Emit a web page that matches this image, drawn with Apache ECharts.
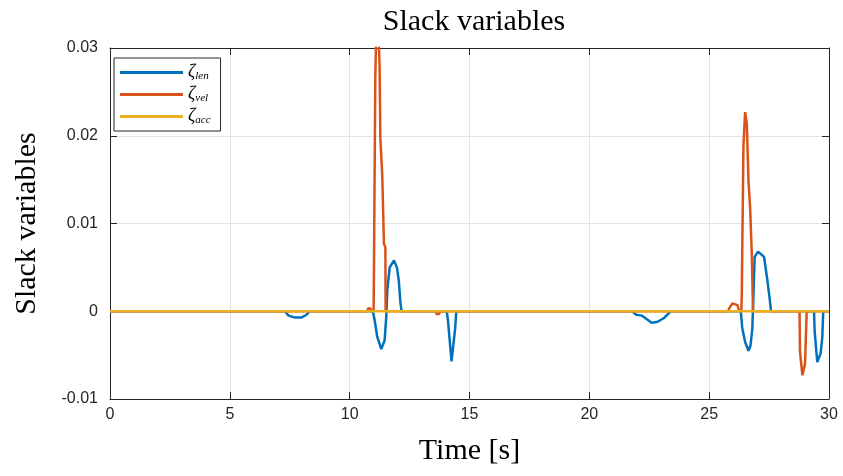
<!DOCTYPE html>
<html><head><meta charset="utf-8">
<script src="https://cdn.jsdelivr.net/npm/echarts@6/dist/echarts.min.js"></script>
<style>html,body{margin:0;padding:0;background:#fff}#c{width:843px;height:476px}</style>
</head><body><div id="c"></div>
<script>
// Data
const seriesNames = ['ζlen', 'ζvel', 'ζacc'];
const legendSub = {'ζlen': 'len', 'ζvel': 'vel', 'ζacc': 'acc'};
const xTicks = [0, 5, 10, 15, 20, 25, 30];
const yTicks = [-0.01, 0, 0.01, 0.02, 0.03];

const lenT = [0, 7.3, 7.45, 7.7, 8.0, 8.2, 8.33, 10.97, 11.04, 11.15, 11.32, 11.46, 11.53, 11.57, 11.67, 11.85, 11.97, 12.05, 12.12, 12.17,
  14.05, 14.1, 14.25, 14.32, 14.4, 14.45, 21.8, 21.95, 22.2, 22.4, 22.6, 22.85, 23.1, 23.4,
  26.32, 26.38, 26.5, 26.64, 26.72, 26.8, 26.85, 26.9, 27.04, 27.29, 27.43, 27.53, 27.58,
  29.375, 29.4, 29.51, 29.65, 29.72, 29.76, 30];
const lenV = [0, 0, -0.0005, -0.0007, -0.0007, -0.0004, 0, 0, -0.001, -0.0029, -0.0043, -0.0033, -0.0005, 0.0024, 0.005, 0.0058, 0.005, 0.0035, 0.0009, 0,
  0, -0.001, -0.0057, -0.0055, -0.002, 0, 0, -0.0004, -0.0005, -0.0009, -0.0013, -0.0012, -0.0008, 0,
  0, -0.0019, -0.0035, -0.0045, -0.004, -0.002, 0.002, 0.0062, 0.0068, 0.0062, 0.0035, 0.0013, 0,
  0, -0.0022, -0.0058, -0.0048, -0.003, 0, 0];

const velT = [0, 10.74, 10.76, 10.88, 10.9, 11.0, 11.01, 11.07, 11.125, 11.21, 11.25, 11.28, 11.35, 11.36, 11.42, 11.43, 11.49, 11.5,
  13.6, 13.62, 13.74, 13.76, 25.8, 25.83, 25.97, 26.18, 26.25, 26.34, 26.36, 26.43, 26.5, 26.57, 26.64, 26.71, 26.78, 26.83,
  28.77, 28.79, 28.89, 29.0, 29.07, 30];
const velV = [0, 0, 0.0003, 0.0003, 0, 0, 0.0035, 0.0267, 0.034, 0.031, 0.0278, 0.0197, 0.0195, 0.0155, 0.0153, 0.0077, 0.0073, 0,
  0, -0.0003, -0.0003, 0, 0, 0.0003, 0.0009, 0.0007, 0, 0, 0.0017, 0.0189, 0.0227, 0.0214, 0.0149, 0.0117, 0.0064, 0,
  0, -0.0046, -0.0073, -0.006, 0, 0];

const accT = [0, 30];
const accV = [0, 0];

const colors = ['#0072BD', '#D95319', '#EDB120'];

function pairs(t, v) { return t.map((x, i) => [x, v[i]]); }

const chart = echarts.init(document.getElementById('c'));
const grid = {left: 110, top: 48, width: 719, height: 351, containLabel: false};
const axisCol = '#262626';
const labelFont = {fontFamily: 'Liberation Sans, Arial, sans-serif', fontSize: 16, color: axisCol};
const serif = 'Liberation Serif, DejaVu Serif, serif';

chart.setOption({
  animation: false,
  backgroundColor: '#fff',
  title: {
    text: 'Slack variables', left: 469, top: 2, textAlign: 'center',
    textStyle: {fontFamily: serif, fontSize: 30, fontWeight: 'normal', color: '#000'}
  },
  grid: grid,
  legend: {
    data: seriesNames, orient: 'vertical', left: 114, top: 58,
    backgroundColor: '#fff', borderColor: axisCol, borderWidth: 1, borderRadius: 0,
    padding: [5, 10, 5, 6], itemGap: 3, itemWidth: 63, itemHeight: 3, icon: 'rect',
    formatter: n => '{a|ζ}{b|' + legendSub[n] + '}',
    textStyle: {
      rich: {
        a: {fontFamily: serif, fontStyle: 'italic', fontSize: 18, color: '#000', lineHeight: 20},
        b: {fontFamily: serif, fontStyle: 'italic', fontSize: 11, color: '#000', lineHeight: 20, padding: [8, 0, 0, 0]}
      }
    }
  },
  xAxis: [{
    type: 'value', min: xTicks[0], max: xTicks[xTicks.length - 1], interval: 5,
    name: 'Time [s]', nameLocation: 'middle', nameGap: 37,
    nameTextStyle: {fontFamily: serif, fontSize: 30, color: '#000'},
    axisLine: {show: true, onZero: false, lineStyle: {color: axisCol, width: 1}},
    axisTick: {show: true, inside: true, length: 7, lineStyle: {color: axisCol}},
    axisLabel: Object.assign({margin: 8}, labelFont),
    splitLine: {show: true, lineStyle: {color: '#e3e3e3', width: 1}}
  }, {
    type: 'value', position: 'top', min: 0, max: 30, interval: 5,
    axisLine: {show: true, onZero: false, lineStyle: {color: axisCol, width: 1}},
    axisTick: {show: true, inside: true, length: 7, lineStyle: {color: axisCol}},
    axisLabel: {show: false}, splitLine: {show: false}
  }],
  yAxis: [{
    type: 'value', min: yTicks[0], max: yTicks[yTicks.length - 1], interval: 0.01,
    name: 'Slack variables', nameLocation: 'middle', nameGap: 68, nameRotate: 90,
    nameTextStyle: {fontFamily: serif, fontSize: 30, color: '#000', padding: [0, 0, 0, 0]},
    axisLine: {show: true, onZero: false, lineStyle: {color: axisCol, width: 1}},
    axisTick: {show: true, inside: true, length: 7, lineStyle: {color: axisCol}},
    axisLabel: Object.assign({margin: 12, formatter: v => String(+v.toFixed(2))}, labelFont),
    splitLine: {show: true, lineStyle: {color: '#e3e3e3', width: 1}}
  }, {
    type: 'value', position: 'right', min: -0.01, max: 0.03, interval: 0.01,
    axisLine: {show: true, onZero: false, lineStyle: {color: axisCol, width: 1}},
    axisTick: {show: true, inside: true, length: 7, lineStyle: {color: axisCol}},
    axisLabel: {show: false}, splitLine: {show: false}
  }],
  series: [
    {name: seriesNames[0], type: 'line', data: pairs(lenT, lenV), showSymbol: false, symbol: 'none', clip: true,
     lineStyle: {color: colors[0], width: 2.5}, itemStyle: {color: colors[0]}, z: 3},
    {name: seriesNames[1], type: 'line', data: pairs(velT, velV), showSymbol: false, symbol: 'none', clip: true,
     lineStyle: {color: colors[1], width: 2.5}, itemStyle: {color: colors[1]}, z: 4},
    {name: seriesNames[2], type: 'line', data: pairs(accT, accV), showSymbol: false, symbol: 'none', clip: true,
     lineStyle: {color: colors[2], width: 2.5}, itemStyle: {color: colors[2]}, z: 5}
  ]
});
</script></body></html>
